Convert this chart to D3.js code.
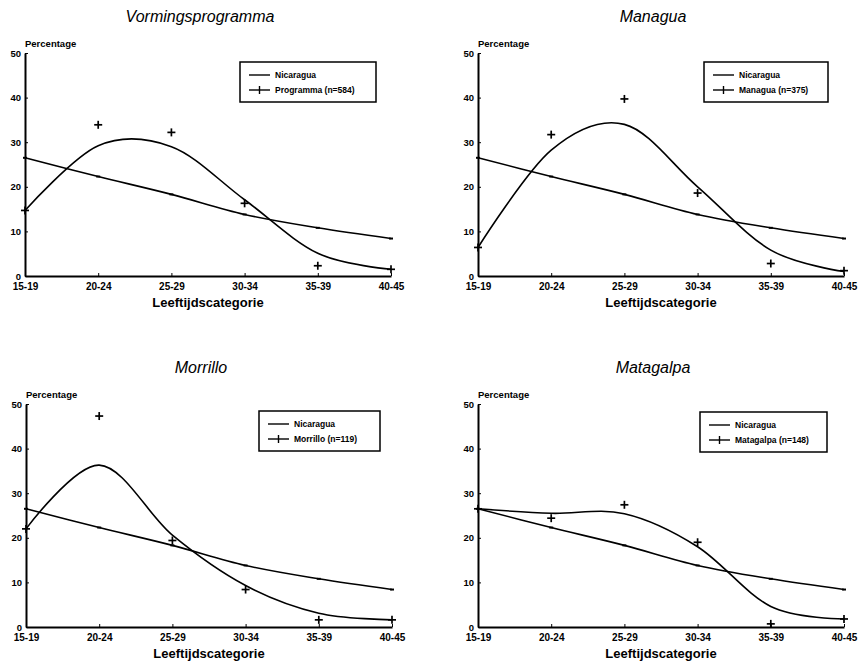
<!DOCTYPE html>
<html>
<head>
<meta charset="utf-8">
<script src="https://cdn.jsdelivr.net/npm/d3@7"></script>
<style>
  body { margin: 0; background: #fff; }
  svg { font-family: "Liberation Sans", Arial, sans-serif; }
</style>
</head>
<body>
<div id="root"></div>
<script>
// DATA
const ageGroups = ["15-19", "20-24", "25-29", "30-34", "35-39", "40-45"];
const yTicks = [0, 10, 20, 30, 40, 50];

// national reference line (same in every panel)
const nicaragua = [26.5, 22.3, 18.3, 13.8, 10.8, 8.4];

// observed percentages (crosses) and fitted curve per panel
const programmaObs = [14.7, 33.9, 32.2, 16.3, 2.3, 1.5];
const programmaFit = [14.7, 29.2, 29.0, 17.1, 5.1, 1.5];

const managuaObs = [6.4, 31.7, 39.7, 18.6, 2.8, 1.2];
const managuaFit = [6.4, 28.2, 34.0, 20.0, 5.8, 1.0];

const morrilloObs = [22.0, 47.3, 19.4, 8.4, 1.6, 1.6];
const morrilloFit = [22.0, 36.3, 20.6, 9.3, 3.1, 1.6];

const matagalpaObs = [26.5, 24.4, 27.4, 19.0, 0.7, 1.8];
const matagalpaFit = [26.5, 25.5, 25.4, 18.0, 4.6, 1.8];

const panelTitles = ["Vormingsprogramma", "Managua", "Morrillo", "Matagalpa"];
const legendLabels = ["Programma (n=584)", "Managua (n=375)", "Morrillo (n=119)", "Matagalpa (n=148)"];

// LAYOUT
let width = 861, height = 663;
let plotW = 366, plotH = 223;
let origins = [[25, 53], [478, 53], [26, 404], [478, 404]];
let legendPos = [[240, 62], [704, 62], [259, 411], [700, 412]];
let legendW = [136, 124, 121, 127];

let panels = [
  { title: panelTitles[0], label: legendLabels[0], obs: programmaObs, fit: programmaFit },
  { title: panelTitles[1], label: legendLabels[1], obs: managuaObs, fit: managuaFit },
  { title: panelTitles[2], label: legendLabels[2], obs: morrilloObs, fit: morrilloFit },
  { title: panelTitles[3], label: legendLabels[3], obs: matagalpaObs, fit: matagalpaFit }
];

let svg = d3.select('#root')
  .append('svg')
  .attr('width', width)
  .attr('height', height);

let x = d3.scalePoint().domain(ageGroups).range([0, plotW]);
let y = d3.scaleLinear().domain([0, 50]).range([plotH, 0]);

let line = d3.line()
  .x((d, i) => x(ageGroups[i]))
  .y(d => y(d))
  .curve(d3.curveCardinal.tension(0));

function plus(g, px, py, s) {
  g.append('line').attr('x1', px - s).attr('x2', px + s).attr('y1', py).attr('y2', py)
    .attr('stroke', '#000').attr('stroke-width', 1.7);
  g.append('line').attr('x1', px).attr('x2', px).attr('y1', py - s).attr('y2', py + s)
    .attr('stroke', '#000').attr('stroke-width', 1.7);
}

panels.forEach((p, k) => {
  let [ox, oy] = origins[k];
  let g = svg.append('g').attr('transform', `translate(${ox}, ${oy})`);

  // title
  g.append('text')
    .attr('x', plotW / 2 - 8)
    .attr('y', -31)
    .attr('text-anchor', 'middle')
    .style('font-size', '16px')
    .style('font-style', 'italic')
    .text(p.title);

  // y label
  g.append('text')
    .attr('x', 0)
    .attr('y', -6)
    .style('font-size', '9.5px')
    .style('font-weight', 'bold')
    .text('Percentage');

  // axes
  let xAxis = g.append('g')
    .attr('transform', `translate(0, ${plotH})`)
    .call(d3.axisBottom(x).tickSizeInner(-3).tickSizeOuter(0).tickPadding(7));
  xAxis.select('.domain').attr('stroke-width', 2);
  xAxis.selectAll('text').style('font-size', '10px').style('font-weight', 'bold')
    .attr('font-family', null);

  let yAxis = g.append('g')
    .call(d3.axisLeft(y).tickValues(yTicks).tickSizeInner(-3).tickSizeOuter(0).tickPadding(4));
  yAxis.select('.domain').attr('stroke-width', 2);
  yAxis.selectAll('text').style('font-size', '9.5px').style('font-weight', 'bold')
    .attr('font-family', null);

  // x label
  g.append('text')
    .attr('x', plotW / 2)
    .attr('y', plotH + 31)
    .attr('text-anchor', 'middle')
    .style('font-size', '13px')
    .style('font-weight', 'bold')
    .text('Leeftijdscategorie');

  // national line
  g.append('path')
    .attr('d', line(nicaragua))
    .attr('fill', 'none')
    .attr('stroke', '#000')
    .attr('stroke-width', 1.6);
  g.selectAll('.nic-mark')
    .data(nicaragua)
    .enter()
    .append('line')
    .attr('class', 'nic-mark')
    .attr('x1', (d, i) => x(ageGroups[i]) - 2)
    .attr('x2', (d, i) => x(ageGroups[i]) + 2)
    .attr('y1', d => y(d))
    .attr('y2', d => y(d))
    .attr('stroke', '#000')
    .attr('stroke-width', 2);

  // fitted curve
  g.append('path')
    .attr('d', line(p.fit))
    .attr('fill', 'none')
    .attr('stroke', '#000')
    .attr('stroke-width', 1.6);

  // observed crosses
  p.obs.forEach((d, i) => plus(g, x(ageGroups[i]), y(d), 4));

  // legend
  let [lx, ly] = legendPos[k];
  let lg = svg.append('g').attr('transform', `translate(${lx}, ${ly})`);
  lg.append('rect')
    .attr('width', legendW[k])
    .attr('height', 40)
    .attr('fill', '#fff')
    .attr('stroke', '#000')
    .attr('stroke-width', 1.5);
  lg.append('line').attr('x1', 9).attr('x2', 30).attr('y1', 13).attr('y2', 13)
    .attr('stroke', '#000').attr('stroke-width', 1.4);
  lg.append('line').attr('x1', 9).attr('x2', 30).attr('y1', 28).attr('y2', 28)
    .attr('stroke', '#000').attr('stroke-width', 1.4);
  lg.append('line').attr('x1', 19.5).attr('x2', 19.5).attr('y1', 24).attr('y2', 32)
    .attr('stroke', '#000').attr('stroke-width', 1.4);
  lg.append('text').attr('x', 35).attr('y', 16)
    .style('font-size', '8.5px').style('font-weight', 'bold').text('Nicaragua');
  lg.append('text').attr('x', 35).attr('y', 31)
    .style('font-size', '8.5px').style('font-weight', 'bold').text(p.label);
});
</script>
</body>
</html>
